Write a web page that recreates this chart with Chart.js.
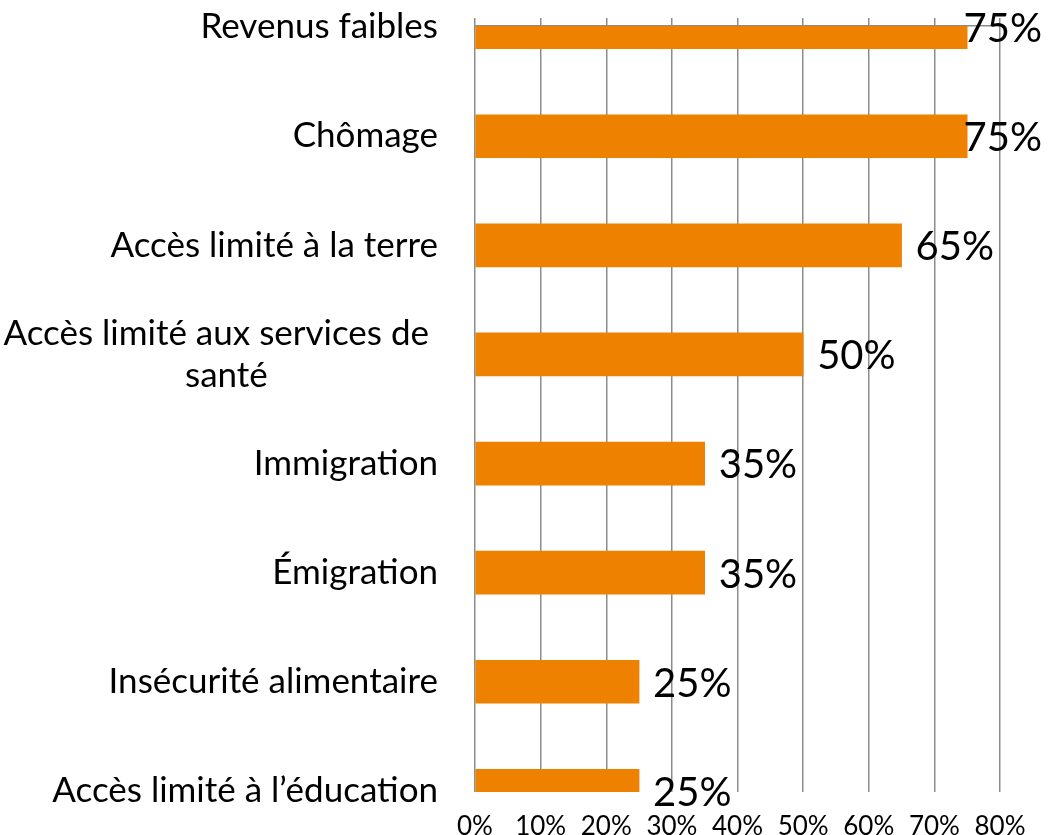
<!DOCTYPE html>
<html>
<head>
<meta charset="utf-8">
<script src="https://cdn.jsdelivr.net/npm/chart.js@4.4.1/dist/chart.umd.min.js"></script>
<style>
  html, body { margin: 0; padding: 0; background: #fff; }
  canvas { display: block; }
</style>
</head>
<body>
<canvas id="c" width="1048" height="835"></canvas>
<script>
const categories = [
  ['Revenus faibles'],
  ['Chômage'],
  ['Accès limité à la terre'],
  ['Accès limité aux services de ', 'santé' + '\u00a0'.repeat(19)],
  ['Immigration'],
  ['Émigration'],
  ['Insécurité alimentaire'],
  ['Accès limité à l’éducation']
];
const values = [75, 75, 65, 50, 35, 35, 25, 25];
const xTicks = [0, 10, 20, 30, 40, 50, 60, 70, 80];

const FONT = 'Lato, "Open Sans", sans-serif';
const GRID = '#8c8c8c';
const ORANGE = '#EF8100';

const points = values.map((v, i) => ({ x: v, y: i }));

const dataLabels = {
  id: 'dataLabels',
  afterDatasetsDraw(chart) {
    const ctx = chart.ctx;
    const meta = chart.getDatasetMeta(0);
    ctx.save();
    ctx.font = '40px ' + FONT;
    ctx.fillStyle = '#000';
    ctx.textAlign = 'left';
    ctx.textBaseline = 'middle';
    meta.data.forEach((bar, i) => {
      const txt = values[i] + '%';
      const w = ctx.measureText(txt).width;
      const x = Math.min(bar.x + 14, chart.width - 6 - w);
      ctx.fillText(txt, x, bar.y + 2);
    });
    ctx.restore();
  }
};

function noPad(s) { s.paddingTop = 0; s.paddingBottom = 0; s.paddingLeft = 0; s.paddingRight = 0; }

const canvas = document.getElementById('c');
const c2d = canvas.getContext('2d');
if ('letterSpacing' in c2d) c2d.letterSpacing = '0.1px';

new Chart(canvas, {
  type: 'bar',
  data: {
    datasets: [{
      data: points,
      backgroundColor: ORANGE,
      borderWidth: 0,
      barThickness: 43,
      clip: 0
    }]
  },
  options: {
    indexAxis: 'y',
    responsive: false,
    animation: false,
    events: [],
    layout: { padding: { left: 0, right: 48, top: 0, bottom: 0 } },
    plugins: { legend: { display: false }, tooltip: { enabled: false } },
    scales: {
      y: {
        type: 'linear',
        reverse: true,
        offset: false,
        min: -0.01,
        max: 7.01,
        afterBuildTicks(s) { s.ticks = categories.map((_, i) => ({ value: i })); },
        afterFit(s) { s.width = 475; noPad(s); },
        grid: { display: false, drawTicks: false, offset: false },
        border: { display: false },
        ticks: {
          autoSkip: false,
          padding: 37,
          color: '#000',
          font: { family: FONT, size: 35 },
          callback: (v) => categories[v]
        }
      },
      x: {
        type: 'linear',
        position: 'bottom',
        min: 0,
        max: 80,
        afterBuildTicks(s) { s.ticks = xTicks.map(v => ({ value: v })); },
        afterFit(s) { s.height = 43; noPad(s); },
        grid: { color: GRID, lineWidth: 1.5, drawTicks: false },
        border: { display: false },
        ticks: {
          padding: 19,
          color: '#000',
          font: { family: FONT, size: 26 },
          callback: (v) => v + '%'
        }
      },
      x2: {
        type: 'linear',
        position: 'top',
        axis: 'x',
        min: 0,
        max: 80,
        afterBuildTicks(s) { s.ticks = xTicks.map(v => ({ value: v })); },
        afterFit(s) { s.height = 26; noPad(s); },
        grid: { color: GRID, lineWidth: 1.5, drawOnChartArea: false, drawTicks: true, tickLength: 8 },
        border: { display: true, color: GRID, width: 1.5 },
        ticks: { display: false }
      }
    }
  },
  plugins: [dataLabels]
});
</script>
</body>
</html>
